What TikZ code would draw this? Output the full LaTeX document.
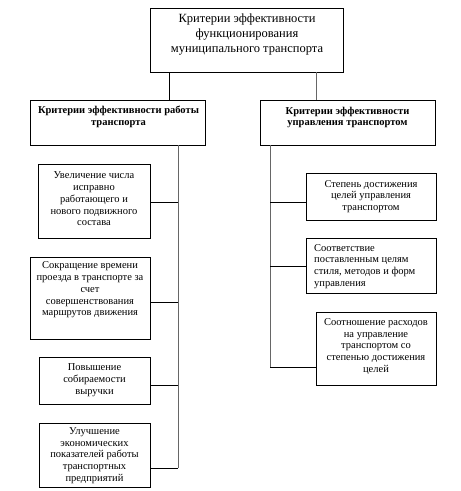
\documentclass[tikz,border=0pt]{standalone}
\usepackage{fontspec}
\setmainfont{Liberation Serif}
\begin{document}
\begin{tikzpicture}[x=1pt,y=-1pt,
  box/.style={draw=black,line width=0.8pt,rectangle,inner sep=0pt,anchor=north west},
  txt/.style={inner sep=0pt,align=center,font=\fontsize{10.5}{11.8}\selectfont},
  head/.style={inner sep=0pt,align=center,font=\fontsize{10.5}{11.8}\selectfont\bfseries},
  ttl/.style={inner sep=0pt,align=center,font=\fontsize{12.5}{15}\selectfont},
  conn/.style={line width=0.8pt,draw=black},
  vconn/.style={line width=0.8pt,draw=black!60}]
\useasboundingbox (0,0) rectangle (461,491);
% boxes
\node[box,minimum width=193pt,minimum height=64pt] (T) at (150,8) {};
\node[box,minimum width=175pt,minimum height=45pt] (LH) at (30,100) {};
\node[box,minimum width=175pt,minimum height=45pt] (RH) at (260,100) {};
\node[box,minimum width=112pt,minimum height=74pt] (L1) at (38,164) {};
\node[box,minimum width=120pt,minimum height=82pt] (L2) at (30,257) {};
\node[box,minimum width=111pt,minimum height=47pt] (L3) at (39,357) {};
\node[box,minimum width=111pt,minimum height=64pt] (L4) at (39,423) {};
\node[box,minimum width=130pt,minimum height=47pt] (R1) at (306,173) {};
\node[box,minimum width=130pt,minimum height=55pt] (R2) at (306,238) {};
\node[box,minimum width=120pt,minimum height=73pt] (R3) at (316,312) {};
% texts
\node[ttl] (tT) at (247,35) {Критерии эффективности\\функционирования\\муниципального транспорта};
\node[head] (tLH) at (118.5,116.5) {Критерии эффективности работы\\транспорта};
\node[head] (tRH) at (347.5,117.5) {Критерии эффективности\\управления транспортом};
\node[txt] (tL1) at (94,199) {Увеличение числа\\исправно\\работающего и\\нового подвижного\\состава};
\node[txt] (tL2) at (90,290) {Сокращение времени\\проезда в транспорте за\\счет\\совершенствования\\маршрутов движения};
\node[txt] (tL3) at (94.5,380) {Повышение\\собираемости\\выручки};
\node[txt] (tL4) at (94.5,455.5) {Улучшение\\экономических\\показателей работы\\транспортных\\предприятий};
\node[txt] (tR1) at (371,196.5) {Степень достижения\\целей управления\\транспортом};
\node[txt,align=left,anchor=west] (tR2) at (314,266.5) {Соответствие\\поставленным целям\\стиля, методов и форм\\управления};
\node[txt] (tR3) at (376,346.5) {Соотношение расходов\\на управление\\транспортом со\\степенью достижения\\целей};
% junction coordinates
\coordinate (ta) at (169,72);
\coordinate (tb) at (316,72);
\coordinate (ls) at (178,145);
\coordinate (lj1) at (178,202);
\coordinate (lj2) at (178,302);
\coordinate (lj3) at (178,385);
\coordinate (lj4) at (178,468);
\coordinate (rs) at (270,145);
\coordinate (rj1) at (270,202);
\coordinate (rj2) at (270,266);
\coordinate (rj3) at (270,367);
% connectors
\draw[conn] (ta) -- (ta |- LH.north);
\draw[vconn] (tb) -- (tb |- RH.north);
\draw[vconn] (ls) -- (lj4);
\draw[conn] (lj1) -- (lj1 -| L1.east);
\draw[conn] (lj2) -- (lj2 -| L2.east);
\draw[conn] (lj3) -- (lj3 -| L3.east);
\draw[conn] (lj4) -- (lj4 -| L4.east);
\draw[vconn] (rs) -- (rj3);
\draw[conn] (rj1) -- (rj1 -| R1.west);
\draw[conn] (rj2) -- (rj2 -| R2.west);
\draw[conn] (rj3) -- (rj3 -| R3.west);
\end{tikzpicture}
\end{document}
